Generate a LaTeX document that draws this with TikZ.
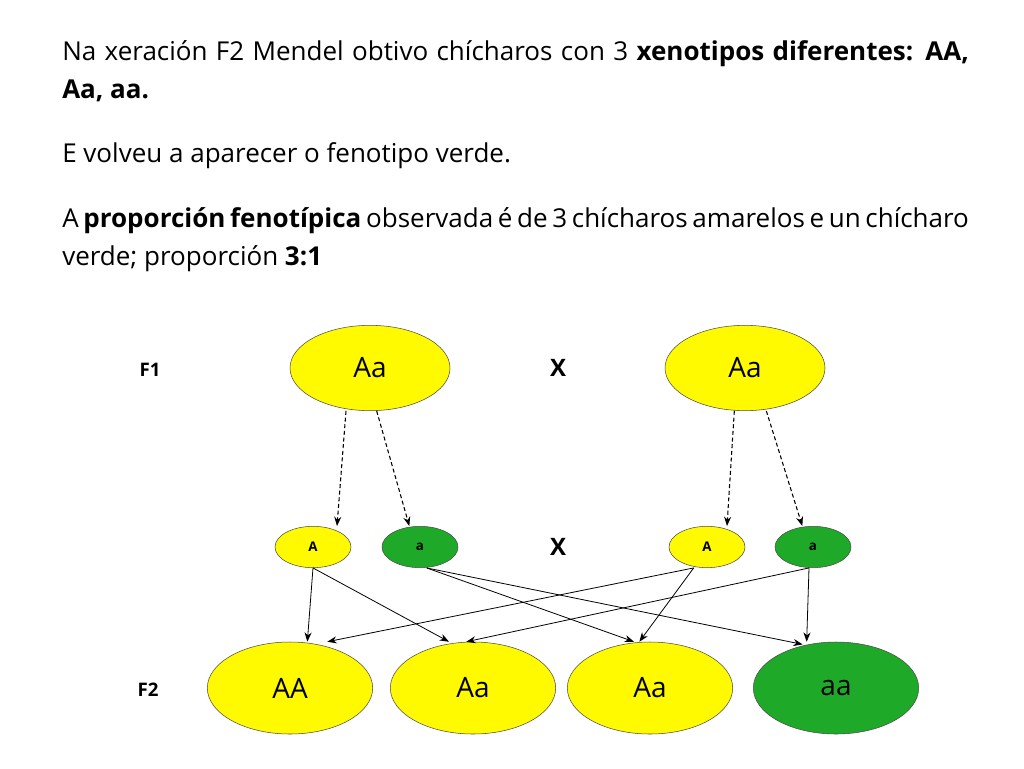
\documentclass[tikz,border=0pt]{standalone}
\usepackage{fontspec}
\setmainfont{Open Sans}
\setsansfont{Open Sans}
\usetikzlibrary{arrows.meta,shapes.geometric}
\definecolor{peayellow}{RGB}{255,250,0}
\definecolor{peagreen}{RGB}{30,170,40}
\begin{document}
\begin{tikzpicture}[x=0.75pt,y=-0.75pt,
  big/.style={draw=black!70,ellipse,minimum width=120pt,minimum height=64pt,inner sep=0,font=\fontsize{21}{22}\selectfont\sffamily},
  bigf2/.style={big,minimum width=124pt,minimum height=69pt},
  gamete/.style={draw=black!70,ellipse,minimum width=57pt,minimum height=31pt,inner sep=0,font=\fontsize{10}{11}\selectfont\bfseries\sffamily},
  gen/.style={font=\fontsize{14}{15}\selectfont\bfseries\rmfamily},
  cross/.style={font=\fontsize{18}{20}\selectfont\bfseries\sffamily},
  dashed arrow/.style={-{Stealth[length=7pt]},densely dashed,thick},
  solid arrow/.style={-{Stealth[length=7pt]},semithick},
]
\useasboundingbox (0,0) rectangle (1024,768);
\fill[white] (0,0) rectangle (1024,768);
% text block
\node[anchor=north west,text width=680pt,align=justify,inner sep=0,font=\fontsize{19.5}{28.5}\selectfont] (txt) at (62,40)
  {Na xeración F2 Mendel obtivo chícharos con 3 \textbf{xenotipos diferentes: AA, Aa, aa.}\par\vspace{20pt}
   E volveu a aparecer o fenotipo verde.\par\vspace{20pt}
   A \textbf{proporción fenotípica} observada é de 3 chícharos amarelos e un chícharo verde; proporción \textbf{3:1}};
% F1
\node[gen] (f1) at (150,370) {F1};
\node[big,fill=peayellow] (p1) at (370,368) {Aa};
\node[cross] (x1) at (558,368) {X};
\node[big,fill=peayellow] (p2) at (745,368) {Aa};
% gametes
\node[gamete,fill=peayellow] (g1) at (313,547) {A};
\node[gamete,fill=peagreen] (g2) at (420,547) {a};
\node[cross] (x2) at (558,547) {X};
\node[gamete,fill=peayellow] (g3) at (707,547) {A};
\node[gamete,fill=peagreen] (g4) at (813,547) {a};
% F2
\node[gen] (f2) at (148,690) {F2};
\node[bigf2,fill=peayellow] (c1) at (290,688) {AA};
\node[bigf2,fill=peayellow] (c2) at (473,688) {Aa};
\node[bigf2,fill=peayellow] (c3) at (650,688) {Aa};
\node[bigf2,fill=peagreen] (c4) at (836,688) {aa};
% dashed arrows
\draw[dashed arrow] ([xshift=-18pt]p1.south) -- ([xshift=18pt]g1.north);
\draw[dashed arrow] ([xshift=5pt]p1.south) -- ([xshift=-8pt]g2.north);
\draw[dashed arrow] ([xshift=-8pt]p2.south) -- ([xshift=15pt]g3.north);
\draw[dashed arrow] ([xshift=16pt]p2.south) -- ([xshift=-8pt]g4.north);
% solid arrows
\draw[solid arrow] (g1.south) -- ([xshift=13pt]c1.north);
\draw[solid arrow] (g1.south) -- ([xshift=-18pt]c2.north);
\draw[solid arrow] ([xshift=5pt]g2.south) -- ([xshift=-12pt]c3.north);
\draw[solid arrow] ([xshift=5pt]g2.south) -- ([xshift=-25pt,yshift=-2pt]c4.north);
\draw[solid arrow] ([xshift=-10pt]g3.south) -- ([xshift=28pt]c1.north);
\draw[solid arrow] ([xshift=-10pt]g3.south) -- ([xshift=-8pt]c3.north);
\draw[solid arrow] ([xshift=-3pt]g4.south) -- ([xshift=-5pt]c2.north);
\draw[solid arrow] ([xshift=-3pt]g4.south) -- ([xshift=-22pt]c4.north);
\end{tikzpicture}
\end{document}
